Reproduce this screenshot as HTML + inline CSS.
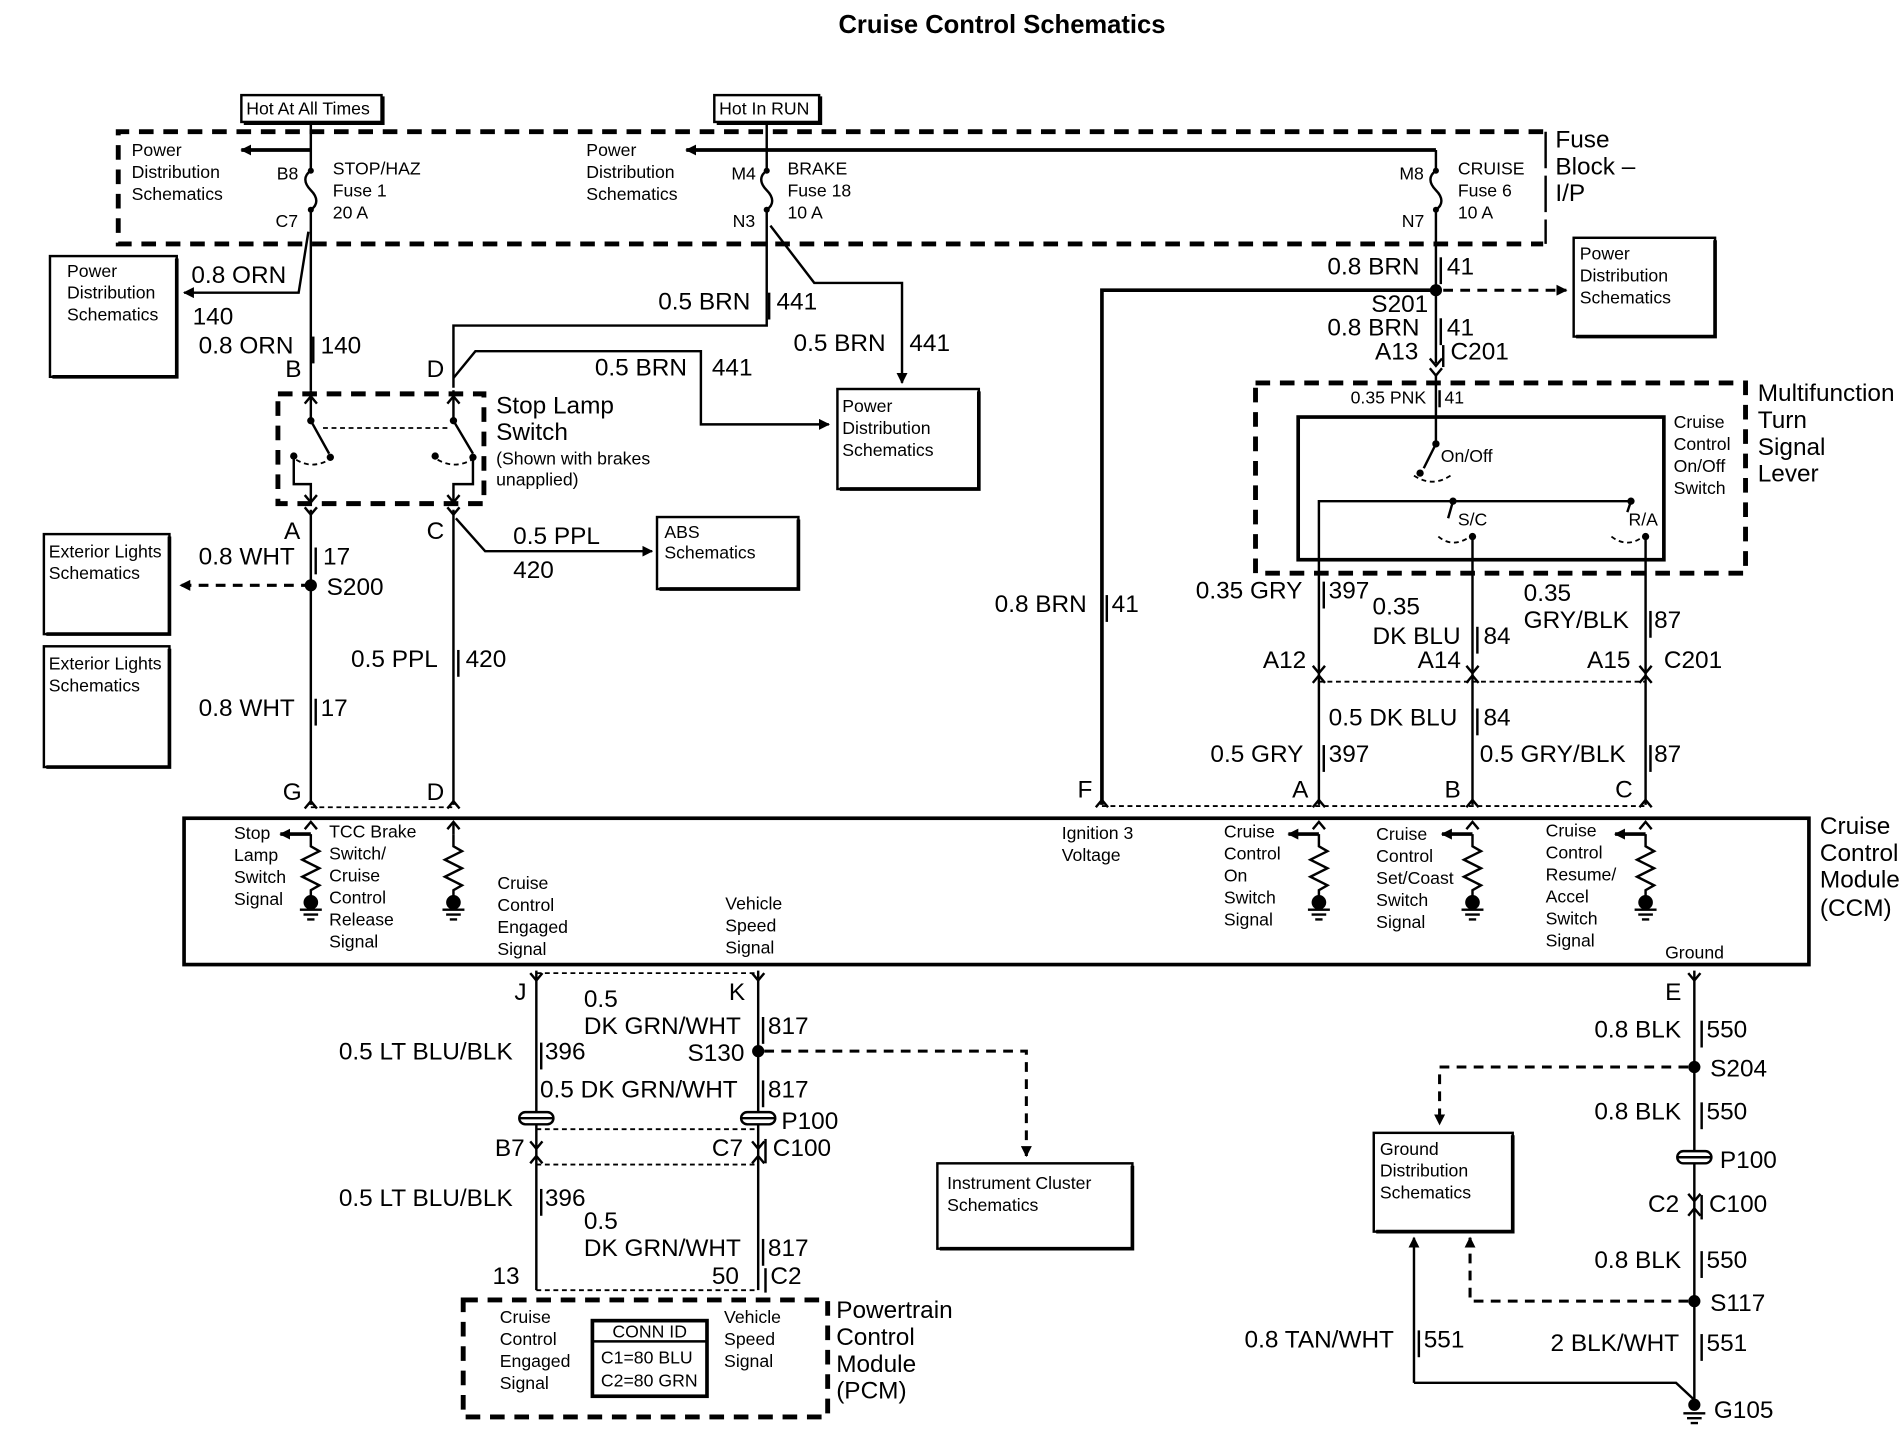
<!DOCTYPE html>
<html><head><meta charset="utf-8"><style>
html,body{margin:0;padding:0;background:#fff;}
svg{display:block;}
text{font-family:"Liberation Sans Narrow","Liberation Sans",sans-serif;fill:#000;}
.b{font-size:20px;}
.s{font-size:14.5px;}
.l{fill:none;stroke:#000;stroke-width:2;}
.t{fill:none;stroke:#000;stroke-width:3;}
.d{fill:none;stroke:#000;stroke-width:2.5;stroke-dasharray:8 6;}
.dd{fill:none;stroke:#000;stroke-width:4;stroke-dasharray:12 8;}
.ds{fill:none;stroke:#000;stroke-width:1.5;stroke-dasharray:4 3;}
</style></head><body>
<svg width="1904" height="1456" viewBox="0 0 1562 1194" preserveAspectRatio="none" xmlns="http://www.w3.org/2000/svg">
<defs>
<marker id="ar" viewBox="0 0 10 10" refX="9" refY="5" markerWidth="9" markerHeight="9" orient="auto-start-reverse" markerUnits="userSpaceOnUse"><path d="M0,0 L10,5 L0,10 z" fill="#000"/></marker>
<g id="res"><path class="l" d="M0,0 v10 l7,4 l-14,7 l14,7 l-14,7 l14,7 l-7,4 v6"/><circle cx="0" cy="56" r="6" fill="#000"/><path class="l" d="M-9,62 h18 M-6,66 h12 M-3,70 h6"/></g>
<g id="chev"><path class="l" d="M-5,6 L0,0 L5,6"/></g>
<g id="chevd"><path class="l" d="M-5,-6 L0,0 L5,-6"/></g>
<g id="fuse"><path class="l" d="M0,0 c-6,4 -6,10 0,16 c6,6 6,12 0,16"/><circle cx="0" cy="0" r="2.5" fill="#000"/><circle cx="0" cy="32" r="2.5" fill="#000"/></g>
<g id="gnd"><path class="l" d="M-9,0 h18 M-6,4 h12 M-3,8 h6"/></g>
<g id="plug"><rect x="-14" y="-5" width="28" height="10" rx="5" fill="#fff" stroke="#000" stroke-width="2"/><path class="l" d="M-14,0 h28"/></g>
</defs>

<text x="822" y="27" font-size="21" font-weight="bold" text-anchor="middle" style="font-family:'Liberation Sans',sans-serif">Cruise Control Schematics</text>

<rect x="198" y="78" width="115" height="22" class="l"/><path class="t" d="M200,101 h114 v-22"/>
<text x="202" y="94" class="s">Hot At All Times</text>
<rect x="586" y="78" width="86" height="22" class="l"/><path class="t" d="M588,101 h85 v-22"/>
<text x="590" y="94" class="s">Hot In RUN</text>

<path class="dd" d="M1266,108 H97 V200 H1266"/>
<path class="l" d="M1268,108 V200" stroke-dasharray="30 6"/>
<text x="1276" y="121" class="b">Fuse</text><text x="1276" y="143" class="b">Block –</text><text x="1276" y="165" class="b">I/P</text>

<text x="108" y="128" class="s">Power</text><text x="108" y="146" class="s">Distribution</text><text x="108" y="164" class="s">Schematics</text>
<text x="481" y="128" class="s">Power</text><text x="481" y="146" class="s">Distribution</text><text x="481" y="164" class="s">Schematics</text>

<path class="l" d="M255,100 V140 M255,172 V320"/>
<path class="t" d="M255,123 H198" marker-end="url(#ar)"/>
<use href="#fuse" x="255" y="140"/>
<text x="227" y="147" class="s">B8</text><text x="226" y="186" class="s">C7</text>
<text x="273" y="143" class="s">STOP/HAZ</text><text x="273" y="161" class="s">Fuse 1</text><text x="273" y="179" class="s">20 A</text>
<path class="l" d="M253,190 L245,240 H151" marker-end="url(#ar)"/>

<path class="l" d="M629,100 V140 M629,172 V267 H372 V318"/>
<path class="t" d="M1178,123 H563" marker-end="url(#ar)"/>
<use href="#fuse" x="629" y="140"/>
<text x="600" y="147" class="s">M4</text><text x="601" y="186" class="s">N3</text>
<text x="646" y="143" class="s">BRAKE</text><text x="646" y="161" class="s">Fuse 18</text><text x="646" y="179" class="s">10 A</text>
<path class="l" d="M632,185 L668,232 H740 V314" marker-end="url(#ar)"/>
<path class="l" d="M372,310 L390,288 H575 V348 H680" marker-end="url(#ar)"/>

<path class="l" d="M1178,123 V140 M1178,172 V298"/>
<use href="#fuse" x="1178" y="140"/>
<text x="1148" y="147" class="s">M8</text><text x="1150" y="186" class="s">N7</text>
<text x="1196" y="143" class="s">CRUISE</text><text x="1196" y="161" class="s">Fuse 6</text><text x="1196" y="179" class="s">10 A</text>

<rect x="41" y="210" width="104" height="99" class="l"/><path class="t" d="M43,309 H145 V212"/>
<text x="55" y="227" class="s">Power</text><text x="55" y="245" class="s">Distribution</text><text x="55" y="263" class="s">Schematics</text>
<text x="157" y="232" class="b">0.8 ORN</text><text x="158" y="266" class="b">140</text>
<text x="163" y="290" class="b">0.8 ORN</text><text x="263" y="290" class="b">140</text>
<path class="l" d="M257,276 v22"/>
<text x="234" y="309" class="b">B</text><text x="350" y="309" class="b">D</text>
<text x="540" y="254" class="b">0.5 BRN</text><text x="637" y="254" class="b">441</text><path class="l" d="M631,240 v22"/>
<text x="651" y="288" class="b">0.5 BRN</text><text x="746" y="288" class="b">441</text>
<text x="488" y="308" class="b">0.5 BRN</text><text x="584" y="308" class="b">441</text>

<rect x="687" y="319" width="116" height="82" class="l"/><path class="t" d="M689,401 H803 V321"/>
<text x="691" y="338" class="s">Power</text><text x="691" y="356" class="s">Distribution</text><text x="691" y="374" class="s">Schematics</text>

<path class="dd" d="M228,323 H397 V413 H228 Z"/>
<path class="l" d="M255,320 V345 L270,372 M372,320 V345 L388,372"/>
<use href="#chev" x="255" y="325"/><use href="#chev" x="372" y="325"/>
<circle cx="255" cy="345" r="3" fill="#000"/><circle cx="372" cy="345" r="3" fill="#000"/>
<circle cx="241" cy="374" r="3" fill="#000"/><circle cx="271" cy="375" r="3" fill="#000"/>
<circle cx="357" cy="374" r="3" fill="#000"/><circle cx="388" cy="375" r="3" fill="#000"/>
<path class="ds" d="M265,351 H370 M243,377 Q256,385 270,377 M359,377 Q373,385 387,377"/>
<path class="l" d="M241,374 V397 H255 V412 M388,375 V397 H372 V412 M255,418 V660 M372,418 V660"/>
<use href="#chevd" x="255" y="412"/><use href="#chevd" x="372" y="412"/>
<use href="#chevd" x="255" y="422"/><use href="#chevd" x="372" y="422"/>
<text x="407" y="339" class="b">Stop Lamp</text><text x="407" y="361" class="b">Switch</text>
<text x="407" y="381" class="s">(Shown with brakes</text><text x="407" y="398" class="s">unapplied)</text>
<text x="233" y="442" class="b">A</text><text x="350" y="442" class="b">C</text>

<path class="l" d="M374,425 L398,452 H535" marker-end="url(#ar)"/>
<text x="421" y="446" class="b">0.5 PPL</text><text x="421" y="474" class="b">420</text>
<rect x="539" y="424" width="116" height="59" class="l"/><path class="t" d="M541,483 H655 V426"/>
<text x="545" y="441" class="s">ABS</text><text x="545" y="458" class="s">Schematics</text>

<rect x="36" y="438" width="103" height="82" class="l"/><path class="t" d="M38,520 H139 V440"/>
<text x="40" y="457" class="s">Exterior Lights</text><text x="40" y="475" class="s">Schematics</text>
<rect x="36" y="530" width="103" height="99" class="l"/><path class="t" d="M38,629 H139 V532"/>
<text x="40" y="549" class="s">Exterior Lights</text><text x="40" y="567" class="s">Schematics</text>
<circle cx="255" cy="480" r="5" fill="#000"/>
<path class="d" d="M255,480 H148" marker-end="url(#ar)"/>
<text x="163" y="463" class="b">0.8 WHT</text><text x="265" y="463" class="b">17</text><path class="l" d="M259,449 v22"/>
<text x="268" y="488" class="b">S200</text>
<text x="288" y="547" class="b">0.5 PPL</text><text x="382" y="547" class="b">420</text><path class="l" d="M376,533 v22"/>
<text x="163" y="587" class="b">0.8 WHT</text><text x="263" y="587" class="b">17</text><path class="l" d="M259,573 v22"/>
<text x="232" y="656" class="b">G</text><text x="350" y="656" class="b">D</text>
<use href="#chev" x="255" y="657"/><use href="#chev" x="372" y="657"/>
<path class="ds" d="M255,662 H372"/>

<path class="t" d="M904,660 V238 H1178"/>
<circle cx="1178" cy="238" r="5" fill="#000"/>
<path class="d" d="M1184,238 H1285" marker-end="url(#ar)"/>
<rect x="1291" y="195" width="116" height="81" class="l"/><path class="t" d="M1293,276 H1407 V197"/>
<text x="1296" y="213" class="s">Power</text><text x="1296" y="231" class="s">Distribution</text><text x="1296" y="249" class="s">Schematics</text>
<text x="1089" y="225" class="b">0.8 BRN</text><text x="1187" y="225" class="b">41</text><path class="l" d="M1182,211 v22"/>
<text x="1125" y="256" class="b">S201</text>
<text x="1089" y="275" class="b">0.8 BRN</text><text x="1187" y="275" class="b">41</text><path class="l" d="M1182,261 v22"/>
<text x="1128" y="295" class="b">A13</text><text x="1190" y="295" class="b">C201</text><path class="l" d="M1184,283 v18"/>
<use href="#chevd" x="1178" y="300"/><use href="#chevd" x="1178" y="308"/>
<text x="816" y="502" class="b">0.8 BRN</text><text x="912" y="502" class="b">41</text><path class="l" d="M908,488 v22"/>
<text x="884" y="654" class="b">F</text>

<path class="dd" d="M1030,314 H1432 V470 H1030 Z"/>
<text x="1108" y="331" class="s">0.35 PNK</text><text x="1185" y="331" class="s">41</text><path class="l" d="M1181,320 v14"/>
<rect x="1065" y="342" width="300" height="117" fill="none" stroke="#000" stroke-width="3"/>
<path class="l" d="M1178,308 V364 L1168,384"/><circle cx="1178" cy="364" r="3" fill="#000"/><circle cx="1165" cy="388" r="3" fill="#000"/>
<path class="ds" d="M1160,390 Q1175,400 1190,390"/>
<text x="1182" y="379" class="s">On/Off</text>
<path class="l" d="M1082,660 V411 H1338 L1335,420 M1192,411 L1188,425 M1208,440 V660 M1350,440 V660"/>
<circle cx="1192" cy="411" r="3" fill="#000"/><circle cx="1338" cy="411" r="3" fill="#000"/>
<circle cx="1208" cy="440" r="3" fill="#000"/><circle cx="1350" cy="440" r="3" fill="#000"/>
<path class="ds" d="M1180,440 Q1192,450 1206,440 M1322,440 Q1335,450 1348,440"/>
<text x="1196" y="431" class="s">S/C</text><text x="1336" y="431" class="s">R/A</text>
<text x="1373" y="351" class="s">Cruise</text><text x="1373" y="369" class="s">Control</text><text x="1373" y="387" class="s">On/Off</text><text x="1373" y="405" class="s">Switch</text>
<text x="1442" y="329" class="b">Multifunction</text><text x="1442" y="351" class="b">Turn</text><text x="1442" y="373" class="b">Signal</text><text x="1442" y="395" class="b">Lever</text>

<text x="981" y="491" class="b">0.35 GRY</text><text x="1090" y="491" class="b">397</text><path class="l" d="M1086,477 v22"/>
<text x="1126" y="504" class="b">0.35</text><text x="1126" y="528" class="b">DK BLU</text><text x="1217" y="528" class="b">84</text><path class="l" d="M1212,514 v22"/>
<text x="1250" y="493" class="b">0.35</text><text x="1250" y="515" class="b">GRY/BLK</text><text x="1357" y="515" class="b">87</text><path class="l" d="M1354,501 v22"/>
<text x="1036" y="548" class="b">A12</text><text x="1163" y="548" class="b">A14</text><text x="1302" y="548" class="b">A15</text><text x="1365" y="548" class="b">C201</text>
<path class="ds" d="M1082,559 H1350"/>
<use href="#chevd" x="1082" y="552"/><use href="#chevd" x="1208" y="552"/><use href="#chevd" x="1350" y="552"/>
<use href="#chev" x="1082" y="554"/><use href="#chev" x="1208" y="554"/><use href="#chev" x="1350" y="554"/>
<text x="1090" y="595" class="b">0.5 DK BLU</text><text x="1217" y="595" class="b">84</text><path class="l" d="M1212,581 v22"/>
<text x="993" y="625" class="b">0.5 GRY</text><text x="1090" y="625" class="b">397</text><path class="l" d="M1086,611 v22"/>
<text x="1214" y="625" class="b">0.5 GRY/BLK</text><text x="1357" y="625" class="b">87</text><path class="l" d="M1354,611 v22"/>
<text x="1060" y="654" class="b">A</text><text x="1185" y="654" class="b">B</text><text x="1325" y="654" class="b">C</text>
<path class="ds" d="M904,661 H1350"/>
<use href="#chev" x="904" y="656"/><use href="#chev" x="1082" y="656"/><use href="#chev" x="1208" y="656"/><use href="#chev" x="1350" y="656"/>

<rect x="151" y="671" width="1333" height="120" fill="none" stroke="#000" stroke-width="3"/>
<text x="1493" y="684" class="b">Cruise</text><text x="1493" y="706" class="b">Control</text><text x="1493" y="728" class="b">Module</text><text x="1493" y="751" class="b">(CCM)</text>
<g>
<use href="#chev" x="255" y="674"/><use href="#res" x="255" y="684"/><path class="t" d="M255,684 H230" marker-end="url(#ar)"/>
<use href="#chev" x="372" y="674"/><use href="#res" x="372" y="684"/><path class="l" d="M372,674 v10"/>
<use href="#chev" x="1082" y="674"/><use href="#res" x="1082" y="684"/><path class="t" d="M1082,684 H1057" marker-end="url(#ar)"/>
<use href="#chev" x="1208" y="674"/><use href="#res" x="1208" y="684"/><path class="t" d="M1208,684 H1183" marker-end="url(#ar)"/>
<use href="#chev" x="1350" y="674"/><use href="#res" x="1350" y="684"/><path class="t" d="M1350,684 H1325" marker-end="url(#ar)"/>
</g>
<text x="192" y="688" class="s">Stop</text><text x="192" y="706" class="s">Lamp</text><text x="192" y="724" class="s">Switch</text><text x="192" y="742" class="s">Signal</text>
<text x="270" y="687" class="s">TCC Brake</text><text x="270" y="705" class="s">Switch/</text><text x="270" y="723" class="s">Cruise</text><text x="270" y="741" class="s">Control</text><text x="270" y="759" class="s">Release</text><text x="270" y="777" class="s">Signal</text>
<text x="408" y="729" class="s">Cruise</text><text x="408" y="747" class="s">Control</text><text x="408" y="765" class="s">Engaged</text><text x="408" y="783" class="s">Signal</text>
<text x="595" y="746" class="s">Vehicle</text><text x="595" y="764" class="s">Speed</text><text x="595" y="782" class="s">Signal</text>
<text x="871" y="688" class="s">Ignition 3</text><text x="871" y="706" class="s">Voltage</text>
<text x="1004" y="687" class="s">Cruise</text><text x="1004" y="705" class="s">Control</text><text x="1004" y="723" class="s">On</text><text x="1004" y="741" class="s">Switch</text><text x="1004" y="759" class="s">Signal</text>
<text x="1129" y="689" class="s">Cruise</text><text x="1129" y="707" class="s">Control</text><text x="1129" y="725" class="s">Set/Coast</text><text x="1129" y="743" class="s">Switch</text><text x="1129" y="761" class="s">Signal</text>
<text x="1268" y="686" class="s">Cruise</text><text x="1268" y="704" class="s">Control</text><text x="1268" y="722" class="s">Resume/</text><text x="1268" y="740" class="s">Accel</text><text x="1268" y="758" class="s">Switch</text><text x="1268" y="776" class="s">Signal</text>
<text x="1366" y="786" class="s">Ground</text>

<path class="l" d="M440,796 V1058 M622,796 V1058"/>
<use href="#chevd" x="440" y="804"/><use href="#chevd" x="622" y="804"/>
<path class="ds" d="M440,798 H622"/>
<text x="422" y="820" class="b">J</text><text x="598" y="820" class="b">K</text>
<text x="479" y="826" class="b">0.5</text><text x="479" y="848" class="b">DK GRN/WHT</text><text x="630" y="848" class="b">817</text><path class="l" d="M626,834 v22"/>
<text x="278" y="869" class="b">0.5 LT BLU/BLK</text><text x="447" y="869" class="b">396</text><path class="l" d="M444,855 v22"/>
<text x="564" y="870" class="b">S130</text><circle cx="622" cy="862" r="5" fill="#000"/>
<path class="d" d="M627,862 H842 V948" marker-end="url(#ar)"/>
<text x="443" y="900" class="b">0.5 DK GRN/WHT</text><text x="630" y="900" class="b">817</text><path class="l" d="M626,886 v22"/>
<use href="#plug" x="440" y="917"/><use href="#plug" x="622" y="917"/>
<path class="ds" d="M440,926 H622"/>
<text x="641" y="926" class="b">P100</text>
<text x="406" y="948" class="b">B7</text><text x="584" y="948" class="b">C7</text><text x="634" y="948" class="b">C100</text><path class="l" d="M628,934 v20"/>
<use href="#chevd" x="440" y="942"/><use href="#chevd" x="622" y="942"/>
<use href="#chev" x="440" y="948"/><use href="#chev" x="622" y="948"/>
<path class="ds" d="M440,955 H622"/>
<text x="278" y="989" class="b">0.5 LT BLU/BLK</text><text x="447" y="989" class="b">396</text><path class="l" d="M444,975 v22"/>
<text x="479" y="1008" class="b">0.5</text><text x="479" y="1030" class="b">DK GRN/WHT</text><text x="630" y="1030" class="b">817</text><path class="l" d="M626,1016 v22"/>
<text x="404" y="1053" class="b">13</text><text x="584" y="1053" class="b">50</text><text x="632" y="1053" class="b">C2</text><path class="l" d="M628,1040 v20"/>
<path class="ds" d="M440,1058 H622"/>
<rect x="769" y="954" width="160" height="70" class="l"/><path class="t" d="M771,1024 H929 V956"/>
<text x="777" y="975" class="s">Instrument Cluster</text><text x="777" y="993" class="s">Schematics</text>

<path class="dd" d="M380,1066 H679 V1162 H380 Z"/>
<text x="410" y="1085" class="s">Cruise</text><text x="410" y="1103" class="s">Control</text><text x="410" y="1121" class="s">Engaged</text><text x="410" y="1139" class="s">Signal</text>
<text x="594" y="1085" class="s">Vehicle</text><text x="594" y="1103" class="s">Speed</text><text x="594" y="1121" class="s">Signal</text>
<rect x="486" y="1083" width="94" height="62" fill="none" stroke="#000" stroke-width="3"/>
<path class="l" d="M486,1100 H580"/>
<text x="533" y="1097" class="s" text-anchor="middle">CONN ID</text>
<text x="493" y="1118" class="s">C1=80 BLU</text><text x="493" y="1137" class="s">C2=80 GRN</text>
<text x="686" y="1081" class="b">Powertrain</text><text x="686" y="1103" class="b">Control</text><text x="686" y="1125" class="b">Module</text><text x="686" y="1147" class="b">(PCM)</text>

<path class="l" d="M1390,796 V1148"/>
<use href="#chevd" x="1390" y="804"/>
<text x="1366" y="820" class="b">E</text>
<text x="1308" y="851" class="b">0.8 BLK</text><text x="1400" y="851" class="b">550</text><path class="l" d="M1396,837 v22"/>
<circle cx="1390" cy="875" r="5" fill="#000"/><text x="1403" y="883" class="b">S204</text>
<path class="d" d="M1385,875 H1181 V922" marker-end="url(#ar)"/>
<text x="1308" y="918" class="b">0.8 BLK</text><text x="1400" y="918" class="b">550</text><path class="l" d="M1396,904 v22"/>
<use href="#plug" x="1390" y="949"/><text x="1411" y="958" class="b">P100</text>
<text x="1352" y="994" class="b">C2</text><text x="1402" y="994" class="b">C100</text><path class="l" d="M1396,980 v20"/>
<use href="#chevd" x="1390" y="985"/><use href="#chev" x="1390" y="991"/>
<text x="1308" y="1040" class="b">0.8 BLK</text><text x="1400" y="1040" class="b">550</text><path class="l" d="M1396,1026 v22"/>
<circle cx="1390" cy="1067" r="5" fill="#000"/><text x="1403" y="1075" class="b">S117</text>
<path class="d" d="M1385,1067 H1206 V1015" marker-end="url(#ar)"/>
<rect x="1127" y="929" width="114" height="81" class="l"/><path class="t" d="M1129,1010 H1241 V931"/>
<text x="1132" y="947" class="s">Ground</text><text x="1132" y="965" class="s">Distribution</text><text x="1132" y="983" class="s">Schematics</text>
<path class="l" d="M1160,1134 V1015" marker-end="url(#ar)"/>
<path class="l" d="M1160,1134 H1375 L1390,1148"/>
<text x="1021" y="1105" class="b">0.8 TAN/WHT</text><text x="1168" y="1105" class="b">551</text><path class="l" d="M1164,1091 v22"/>
<text x="1272" y="1108" class="b">2 BLK/WHT</text><text x="1400" y="1108" class="b">551</text><path class="l" d="M1396,1094 v22"/>
<circle cx="1390" cy="1152" r="5" fill="#000"/><use href="#gnd" x="1390" y="1159"/>
<text x="1406" y="1163" class="b">G105</text>
</svg>
</body></html>
